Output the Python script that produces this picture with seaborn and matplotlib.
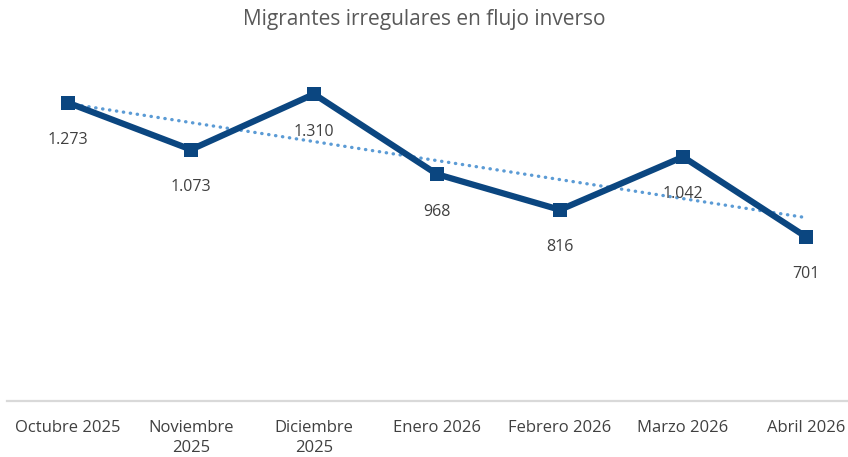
import matplotlib

matplotlib.use("Agg")

import matplotlib.pyplot as plt
import numpy as np
import pandas as pd
import seaborn as sns

months = [
    "Octubre 2025",
    "Noviembre\n2025",
    "Diciembre\n2025",
    "Enero 2026",
    "Febrero 2026",
    "Marzo 2026",
    "Abril 2026",
]
migrants = [1273, 1073, 1310, 968, 816, 1042, 701]
value_labels = ["1.273", "1.073", "1.310", "968", "816", "1.042", "701"]

LINE_COLOR = "#0B4680"
TREND_COLOR = "#5B9BD5"
TEXT_COLOR = "#404040"

sns.set_theme(style="white")
plt.rcParams["font.family"] = ["Open Sans", "DejaVu Sans"]

frame = pd.DataFrame({"pos": np.arange(len(months)), "value": migrants})

fig = plt.figure(figsize=(8.48, 4.57), dpi=100)
# axes: left 6.5px, right 848px, bottom y=401px, top y=73px
ax = fig.add_axes([6.5 / 848, 1 - 401 / 457, 1 - 6.5 / 848, (401 - 73) / 457])

# linear trendline
slope, intercept = np.polyfit(frame["pos"], frame["value"], 1)
frame["trend"] = intercept + slope * frame["pos"]
ax.plot(frame["pos"], frame["trend"], color=TREND_COLOR, linewidth=2.4,
        linestyle=(0, (0.1, 2.0)), dash_capstyle="round", zorder=2)

sns.lineplot(data=frame, x="pos", y="value", ax=ax, color=LINE_COLOR,
             linewidth=4.5, marker="s", markersize=10, markeredgewidth=0,
             zorder=3)

for x, y, label in zip(frame["pos"], frame["value"], value_labels):
    ax.annotate(label, (x, y), xytext=(0, -27), textcoords="offset points",
                ha="center", va="center", fontsize=11.5, color=TEXT_COLOR,
                zorder=4)

ax.set_xlim(-0.5, (848 - 68) / 123)
ax.set_ylim(0, 1400)
ax.set_xticks(frame["pos"])
ax.set_xticklabels(months, fontsize=12, color=TEXT_COLOR, linespacing=1.3)
ax.tick_params(axis="x", length=0, pad=14)
ax.set_yticks([])
ax.set_xlabel("")
ax.set_ylabel("")

for side in ["top", "right", "left"]:
    ax.spines[side].set_visible(False)
ax.spines["bottom"].set_color("#D9D9D9")
ax.spines["bottom"].set_linewidth(1.6)

fig.text(0.5, 1 - 20 / 457, "Migrantes irregulares en flujo inverso",
         ha="center", va="center", fontsize=15, color="#595959")

fig.savefig("out.png", dpi=100)
